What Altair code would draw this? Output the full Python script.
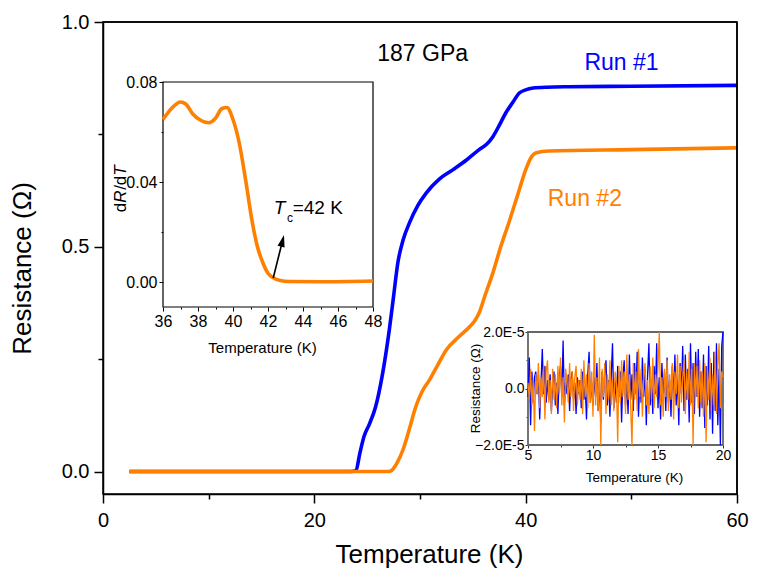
import altair as alt
import pandas as pd

# ---------------- main panel: R(T) ----------------
t_run1 = [2.5, 10, 20, 23.5, 23.94, 24.3, 24.7, 25.2, 25.8, 26.4, 27.1, 27.5, 27.9, 28.4, 29.0,
          29.8, 30.6, 31.8, 33.1, 34.4, 35.6, 36.3, 36.9, 37.5, 38.1, 38.8, 39.4, 40.0, 40.7, 42.0,
          44.1, 50.0, 60.0]
r_run1 = [0, 0, 0, 0, 0.002, 0.04, 0.078, 0.105, 0.144, 0.21, 0.316, 0.39, 0.464, 0.515, 0.553,
          0.592, 0.62, 0.65, 0.671, 0.693, 0.716, 0.728, 0.745, 0.77, 0.797, 0.822, 0.842, 0.849,
          0.853, 0.855, 0.856, 0.857, 0.859]
t_run2 = [2.5, 10, 20, 27.0, 27.3, 27.8, 28.4, 29.0, 29.6, 30.2, 30.9, 31.7, 32.5, 33.6, 34.7,
          35.2, 35.6, 36.2, 36.9, 37.6, 38.4, 39.2, 40.0, 40.5, 41.0, 42.2, 50.0, 60.0]
r_run2 = [0, 0, 0, 0, 0.002, 0.018, 0.049, 0.095, 0.144, 0.178, 0.204, 0.238, 0.271, 0.298, 0.322,
          0.336, 0.353, 0.395, 0.442, 0.497, 0.553, 0.612, 0.671, 0.698, 0.709, 0.713, 0.716, 0.72]
run_names = ["Run #1", "Run #2"]
run_colors = ["#0000FF", "#FF8000"]

main_x_domain = [0, 60]
main_y_domain = [-0.05, 1.0]
main_x_ticks = [0, 10, 20, 30, 40, 50, 60]
main_y_ticks = [0, 0.25, 0.5, 0.75, 1.0]

label_text = ["187 GPa", "Run #1", "Run #2"]
label_t = [30.25, 49.07, 45.6]
label_r = [0.929, 0.908, 0.607]
label_color = ["#000000", "#0000FF", "#FF8000"]

# ---------------- inset 1: dR/dT ----------------
t_deriv = [36.0, 36.5, 37.0, 37.3, 37.7, 38.2, 38.6, 39.0, 39.35, 39.65, 40.0, 40.36, 40.74, 41.1,
           41.4, 41.7, 42.0, 42.3, 42.7, 43.2, 45.0, 48.0]
dr_dt = [0.065, 0.0695, 0.072, 0.0712, 0.0672, 0.0645, 0.0637, 0.0655, 0.0693, 0.0698, 0.065,
         0.0555, 0.040, 0.024, 0.014, 0.0078, 0.0035, 0.0017, 0.0006, 0.0002, 0.0001, 0.0004]
in1_x_domain = [36, 48]
in1_y_domain = [-0.01, 0.08]
in1_x_ticks = [36, 37, 38, 39, 40, 41, 42, 43, 44, 45, 46, 47, 48]
in1_y_ticks = [0.0, 0.02, 0.04, 0.06, 0.08]
arrow_t = [42.3, 42.83]
arrow_v = [0.0016, 0.0165]
tc_text = ["T", "c", "=42 K"]
tc_t = [42.66, 43.26, 43.41]
tc_v = [0.0297, 0.0255, 0.0297]
tc_size = [19, 12, 19]
tc_style = ["italic", "normal", "normal"]
tc_align = ["center", "center", "left"]
ylab_text = ["d", "R", "/", "d", "T"]
ylab_t = [33.6, 33.6, 33.6, 33.6, 33.6]
ylab_v = [0.0298, 0.0342, 0.0378, 0.0406, 0.0446]
ylab_style = ["normal", "italic", "normal", "normal", "italic"]

# ---------------- inset 2: noise ----------------
t_noise = [round(5 + 0.1 * i, 1) for i in range(151)]
noise_run1 = [
    -0.3, 1.1, -1.3, 0.6, -0.5, 0.4, 0.6, -0.2, 0.5, -1.1,
    0.2, 1.4, -0.2, 0.8, -0.5, 0.3, -0.4, 0.5, -0.8, 0.1,
    0.6, -0.6, 0.2, -0.9, 0.4, 0.8, -0.3, 1.7, -0.6, 0.3,
    -0.2, 0.5, -0.8, 0.3, 0.6, -0.4, 0.2, -0.9, 0.4, -0.2,
    0.3, -0.7, 0.6, -0.4, 0.1, -1.1, 0.5, 1.3, -0.5, 0.2,
    -0.6, 0.4, -0.3, 0.9, -0.8, 0.2, -1.2, 0.6, -0.4, 0.5,
    1.0, -0.6, 0.3, -1.0, 0.4, 1.6, -0.7, 0.3, -0.5, 0.8,
    -0.3, 0.6, -1.2, 0.4, 1.0, -0.6, 0.2, -0.9, 1.2, -0.4,
    0.5, -0.8, 0.9, -0.2, 1.3, -1.0, 0.4, -0.5, 1.1, -0.3,
    0.7, -1.3, 0.5, 1.6, -0.6, 0.3, -0.9, 0.8, -0.2, 1.6,
    -0.7, 0.4, -1.1, 0.9, -0.3, 0.6, -0.8, 1.1, -0.5, 0.3,
    -1.0, 0.8, -0.4, 1.2, -0.6, 0.5, -1.3, 0.9, -0.2, 1.5,
    -0.8, 1.2, -0.4, 0.7, -1.2, 1.6, -0.5, 0.9, -0.9, 1.3,
    -0.3, 1.4, -1.0, 0.6, -0.7, 1.2, -1.4, 0.8, -0.6, 1.5,
    -1.1, 0.9, -1.6, 1.3, -0.8, 1.6, -1.3, 0.7, -2.0, 1.5, 2.0]
noise_run2 = [
    0.2, -0.4, 0.7, -0.6, 0.3, -1.5, 0.5, -0.2, 0.9, -0.7,
    0.4, -0.3, 0.8, -1.1, 0.6, 1.0, -0.5, 0.3, -0.9, 0.7,
    -0.4, 0.5, -0.7, 0.8, -0.2, 1.1, -0.6, 0.4, -1.2, 0.7,
    0.2, -0.5, 0.9, -0.3, 0.6, -0.8, 0.4, 0.8, -0.6, 0.3,
    -0.4, 0.7, -0.9, 1.0, -0.3, 0.5, -0.7, 0.9, -0.5, 0.6,
    -1.0, 1.9, -0.6, 0.4, -0.8, 1.1, -2.0, 0.7, -0.3, 0.9,
    -0.9, 0.5, -0.4, 1.0, -0.6, 0.3, -0.8, 0.6, 0.2, -1.9,
    0.8, -0.5, 1.0, -0.3, 0.6, -0.9, 1.2, -0.4, 0.5, -0.7,
    -2.0, 0.9, -0.4, 0.6, -0.8, 1.4, -0.3, 0.7, -1.0, 0.4,
    0.9, -0.6, 0.3, -0.9, 0.8, -0.4, 1.1, -0.7, 0.5, -0.3,
    0.8, 2.0, -0.6, 0.4, -1.0, 0.7, -0.3, 1.0, -0.8, 0.5,
    -0.4, 0.9, -1.1, 0.6, -0.2, 1.2, -0.7, 0.8, -0.5, 0.4,
    1.0, -0.9, 0.6, -0.4, 1.3, -0.6, 0.7, -2.0, 0.9, -0.3,
    0.8, -0.7, 1.0, -0.5, 0.6, -1.0, 0.9, -1.9, 0.7, -0.4,
    1.1, -0.8, 0.5, -0.6, 1.3, -0.9, 0.8, 1.6, -0.7, 0.6, 0.4]
in2_x_domain = [5, 20]
in2_y_domain = [-2, 2]
in2_x_ticks = [5, 7.5, 10, 12.5, 15, 17.5, 20]
in2_y_ticks = [-2, -1, 0, 1, 2]

# ---------------- layout (pixels inside the plot area) ----------------
W, H = 634, 472
IN1_X = [60, 270]
IN1_Y = [285, 60]
IN2_X = [425, 620]
IN2_Y = [423, 310]
FONT = "Liberation Sans"

# ---------------- data frames ----------------
main_df = pd.concat([
    pd.DataFrame({"T": t_run1, "R": r_run1, "run": run_names[0]}),
    pd.DataFrame({"T": t_run2, "R": r_run2, "run": run_names[1]}),
])
frame0_df = pd.DataFrame({"x1": [main_x_domain[0]], "x2": [main_x_domain[1]],
                          "y1": [main_y_domain[0]], "y2": [main_y_domain[1]]})
top_df = pd.DataFrame({"xa": [main_x_domain[0]], "xb": [main_x_domain[1]], "y": [main_y_domain[1]]})
right_df = pd.DataFrame({"x": [main_x_domain[1]], "ya": [main_y_domain[1]], "yb": [main_y_domain[0]]})
labels_df = pd.DataFrame({"text": label_text, "T": label_t, "R": label_r, "c": label_color})
deriv_df = pd.DataFrame({"T": t_deriv, "v": dr_dt})
frame1_df = pd.DataFrame({"x1": [in1_x_domain[0]], "x2": [in1_x_domain[1]],
                          "y1": [in1_y_domain[0]], "y2": [in1_y_domain[1]]})
arrow_df = pd.DataFrame({"t1": [arrow_t[0]], "t2": [arrow_t[1]], "v1": [arrow_v[0]], "v2": [arrow_v[1]]})
head_df = pd.DataFrame({"t": [arrow_t[1]], "v": [arrow_v[1]]})
tc_df = pd.DataFrame({"text": tc_text, "t": tc_t, "v": tc_v})
ylab_df = pd.DataFrame({"text": ylab_text, "t": ylab_t, "v": ylab_v})
noise_df = pd.concat([
    pd.DataFrame({"T": t_noise, "R": noise_run1, "run": run_names[0]}),
    pd.DataFrame({"T": t_noise, "R": noise_run2, "run": run_names[1]}),
])
frame2_df = pd.DataFrame({"x1": [in2_x_domain[0]], "x2": [in2_x_domain[1]],
                          "y1": [in2_y_domain[0]], "y2": [in2_y_domain[1]]})

color_scale = alt.Scale(domain=run_names, range=run_colors)


def sx(domain, rng=None):
    if rng is None:
        return alt.Scale(domain=domain, nice=False, zero=False)
    return alt.Scale(domain=domain, range=rng, nice=False, zero=False)


# ---------------- main panel ----------------
# whole frame as an unfilled rect on explicit-range scales (same pattern as the inset frames)
frame0 = alt.Chart(frame0_df).mark_rect(filled=False, stroke="black", strokeWidth=1.5).encode(
    x=alt.X("x1:Q", scale=sx(main_x_domain, [0, W]), axis=None), x2="x2:Q",
    y=alt.Y("y1:Q", scale=sx(main_y_domain, [H, 0]), axis=None), y2="y2:Q",
)
top_border = alt.Chart(top_df).mark_rule(strokeWidth=1.5, color="black").encode(
    x=alt.X("xa:Q", scale=sx(main_x_domain), axis=None), x2="xb:Q",
    y=alt.Y("y:Q", scale=sx(main_y_domain), axis=None),
)
right_border = alt.Chart(right_df).mark_rule(strokeWidth=1.5, color="black").encode(
    x=alt.X("x:Q", scale=sx(main_x_domain, [0, W]), axis=None),
    y=alt.Y("ya:Q", scale=sx(main_y_domain, [H, 0]), axis=None),
    y2="yb:Q",
)

main_lines = alt.Chart(main_df).mark_line(strokeWidth=3.6, interpolate="monotone").encode(
    x=alt.X("T:Q", scale=sx(main_x_domain), axis=alt.Axis(
        orient="bottom", values=main_x_ticks,
        labelExpr="datum.value % 20 === 0 ? datum.label : ''",
        format="d",
        tickSize={"condition": {"test": "datum.value % 20 !== 0", "value": 5}, "value": 9},
        labelPadding=7, labelFontSize=20, labelFont=FONT, labelColor="black",
        domainColor="black", tickColor="black", domainWidth=1.5, tickWidth=1.5,
        grid=False, labelOverlap=False, labelFlush=False,
        title="Temperature (K)", titleFontSize=26, titleFont=FONT, titleFontWeight="normal",
        titleColor="black", titleX=326, titleY=60, titleBaseline="middle")),
    y=alt.Y("R:Q", scale=sx(main_y_domain), axis=alt.Axis(
        orient="left", values=main_y_ticks,
        labelExpr="datum.value % 0.5 === 0 ? format(datum.value, '.1f') : ''",
        tickSize={"condition": {"test": "datum.value % 0.5 !== 0", "value": 5}, "value": 9},
        labelPadding=5, labelFontSize=20, labelFont=FONT, labelColor="black",
        domainColor="black", tickColor="black", domainWidth=1.5, tickWidth=1.5,
        grid=False, labelOverlap=False, labelFlush=False,
        title="Resistance (Ω)", titleFontSize=26, titleFont=FONT, titleFontWeight="normal",
        titleColor="black", titleX=-81, titleY=246, titleBaseline="middle", titleAngle=270)),
    color=alt.Color("run:N", scale=color_scale, legend=None),
)

main_labels = alt.Chart(labels_df).mark_text(fontSize=23, font=FONT, align="center",
                                             baseline="middle").encode(
    x=alt.X("T:Q", scale=sx(main_x_domain), axis=None),
    y=alt.Y("R:Q", scale=sx(main_y_domain), axis=None),
    text="text:N",
    color=alt.Color("c:N", scale=None),
)

# ---------------- inset 1 ----------------
x1s = sx(in1_x_domain, IN1_X)
y1s = sx(in1_y_domain, IN1_Y)

frame1 = alt.Chart(frame1_df).mark_rect(filled=False, stroke="black", strokeWidth=1.2).encode(
    x=alt.X("x1:Q", scale=x1s, axis=None), x2="x2:Q",
    y=alt.Y("y1:Q", scale=y1s, axis=None), y2="y2:Q",
)

deriv_line = alt.Chart(deriv_df).mark_line(strokeWidth=3.6, color="#FF8000",
                                           interpolate="monotone").encode(
    x=alt.X("T:Q", scale=x1s, axis=alt.Axis(
        orient="bottom", offset=IN1_Y[0] - H, values=in1_x_ticks,
        labelExpr="datum.value % 2 === 0 ? datum.label : ''", format="d",
        tickSize={"condition": {"test": "datum.value % 2 !== 0", "value": 2}, "value": 4},
        labelPadding=2, labelFontSize=16, labelFont=FONT, labelColor="black",
        domain=False, tickColor="black", grid=False, labelOverlap=False, labelFlush=False,
        title="Temperature (K)", titleFontSize=15, titleFont=FONT, titleFontWeight="normal",
        titleColor="black", titleX=159, titleY=40, titleBaseline="middle")),
    y=alt.Y("v:Q", scale=y1s, axis=alt.Axis(
        orient="left", offset=-IN1_X[0], values=in1_y_ticks,
        labelExpr="abs(datum.value / 0.04 - round(datum.value / 0.04)) < 1e-6 ? format(datum.value, '.2f') : ''",
        tickSize={"condition": {"test": "abs(datum.value / 0.04 - round(datum.value / 0.04)) > 1e-6", "value": 2}, "value": 4},
        labelPadding=2, labelFontSize=16, labelFont=FONT, labelColor="black",
        domain=False, tickColor="black", grid=False, labelOverlap=False, labelFlush=False,
        title=None)),
)

arrow_rule = alt.Chart(arrow_df).mark_rule(strokeWidth=1.6, color="black").encode(
    x=alt.X("t1:Q", scale=x1s, axis=None), x2="t2:Q",
    y=alt.Y("v1:Q", scale=y1s, axis=None), y2="v2:Q",
)
arrow_head = alt.Chart(head_df).mark_point(
    shape="M0,-1L0.6,1L-0.6,1Z", size=144, filled=True, color="black", opacity=1, angle=14,
    strokeWidth=0).encode(
    x=alt.X("t:Q", scale=x1s, axis=None),
    y=alt.Y("v:Q", scale=y1s, axis=None),
)

tc_layers = []
for i in range(len(tc_text)):
    tc_layers.append(
        alt.Chart(tc_df.iloc[[i]]).mark_text(
            font=FONT, fontSize=tc_size[i], fontStyle=tc_style[i], align=tc_align[i],
            baseline="middle", color="black").encode(
            x=alt.X("t:Q", scale=x1s, axis=None),
            y=alt.Y("v:Q", scale=y1s, axis=None),
            text="text:N")
    )

ylab_layers = []
for i in range(len(ylab_text)):
    ylab_layers.append(
        alt.Chart(ylab_df.iloc[[i]]).mark_text(
            font=FONT, fontSize=17, fontStyle=ylab_style[i], align="center",
            baseline="middle", angle=270, color="black").encode(
            x=alt.X("t:Q", scale=x1s, axis=None),
            y=alt.Y("v:Q", scale=y1s, axis=None),
            text="text:N")
    )

# ---------------- inset 2 ----------------
x2s = sx(in2_x_domain, IN2_X)
y2s = sx(in2_y_domain, IN2_Y)

frame2 = alt.Chart(frame2_df).mark_rect(filled=False, stroke="#666666", strokeWidth=1.8).encode(
    x=alt.X("x1:Q", scale=x2s, axis=None), x2="x2:Q",
    y=alt.Y("y1:Q", scale=y2s, axis=None), y2="y2:Q",
)

noise_lines = alt.Chart(noise_df).mark_line(strokeWidth=1.3).encode(
    x=alt.X("T:Q", scale=x2s, axis=alt.Axis(
        orient="bottom", offset=IN2_Y[0] - H, values=in2_x_ticks,
        labelExpr="datum.value % 5 === 0 ? datum.label : ''", format="d",
        tickSize={"condition": {"test": "datum.value % 5 !== 0", "value": 2}, "value": 3},
        labelPadding=0, labelFontSize=14, labelFont=FONT, labelColor="black",
        domain=False, tickColor="#333333", grid=False, labelOverlap=False, labelFlush=False,
        title="Temperature (K)", titleFontSize=13.5, titleFont=FONT, titleFontWeight="normal",
        titleColor="black", titleX=531, titleY=32, titleBaseline="middle")),
    y=alt.Y("R:Q", scale=y2s, axis=alt.Axis(
        orient="left", offset=-IN2_X[0], values=in2_y_ticks,
        labelExpr="datum.value === 0 ? '0.0' : (datum.value % 2 === 0 ? format(datum.value, '.1f') + 'E-5' : '')",
        tickSize={"condition": {"test": "datum.value % 2 !== 0", "value": 2}, "value": 3},
        labelPadding=1, labelFontSize=14, labelFont=FONT, labelColor="black",
        domain=False, tickColor="#333333", grid=False, labelOverlap=False, labelFlush=False,
        title="Resistance (Ω)", titleFontSize=13.5, titleFont=FONT, titleFontWeight="normal",
        titleColor="black", titleX=-53, titleY=366, titleBaseline="middle", titleAngle=270)),
    color=alt.Color("run:N", scale=color_scale, legend=None),
)

chart = alt.layer(
    main_lines, frame0, top_border, right_border, main_labels,
    frame1, deriv_line, arrow_rule, arrow_head, *tc_layers, *ylab_layers,
    frame2, noise_lines,
).resolve_scale(
    x="independent", y="independent", color="independent"
).properties(
    width=W, height=H,
    autosize=alt.AutoSizeParams(type="none"),
    padding={"left": 95, "top": 14, "right": 12, "bottom": 75},
    background="white",
).configure_view(
    stroke="black", strokeWidth=1.5
).configure(font=FONT)

chart.save("out.html", embed_options={"renderer": "svg", "actions": False})
